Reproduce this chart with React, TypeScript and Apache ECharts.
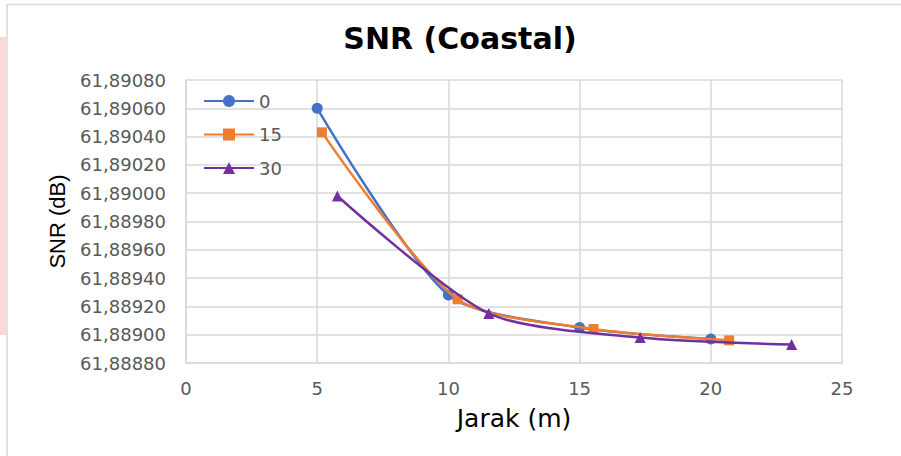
import React, { useEffect, useRef } from "react";
import * as echarts from "echarts";

const titleText = "SNR (Coastal)";
const xAxisTitle = "Jarak (m)";
const yAxisTitle = "SNR (dB)";
const seriesNames = ["0", "15", "30"];

const distance0 = [5, 10, 15, 20];
const snr0 = [61.8906, 61.88928, 61.88905, 61.88897];
const distance15 = [5.18, 10.35, 15.53, 20.7];
const snr15 = [61.89043, 61.88925, 61.88904, 61.88896];
const distance30 = [5.77, 11.54, 17.31, 23.08];
const snr30 = [61.88998, 61.88915, 61.88898, 61.88893];

const colors = ["#4472C4", "#ED7D31", "#7030A0"];
const symbols = ["circle", "rect", "triangle"];
const symbolSizes = [11, 10, 11];

const xMin = 0;
const xMax = 25;
const xStep = 5;
const yMin = 61.8888;
const yMax = 61.8908;
const yStep = 0.0002;

function zip(xs: number[], ys: number[]) {
  return xs.map((x, i) => [x, ys[i]]);
}

export default function App() {
  const ref = useRef<HTMLDivElement>(null);
  useEffect(() => {
    if (!ref.current) return;
    const chart = echarts.init(ref.current, undefined, { renderer: "svg" });
    const labelFont = "DejaVu Sans";
    const datasets = [
      zip(distance0, snr0),
      zip(distance15, snr15),
      zip(distance30, snr30),
    ];
    chart.setOption({
      animation: false,
      backgroundColor: "#ffffff",
      graphic: [
        {
          type: "rect",
          shape: { x: 0, y: 37, width: 6, height: 298 },
          style: { fill: "#fdd8da" },
          silent: true,
        },
        {
          type: "line",
          shape: { x1: 7, y1: 4.5, x2: 901, y2: 4.5 },
          style: { stroke: "#d9d9d9", lineWidth: 1.5 },
          silent: true,
        },
        {
          type: "line",
          shape: { x1: 7, y1: 4, x2: 7, y2: 456 },
          style: { stroke: "#d9d9d9", lineWidth: 1.5 },
          silent: true,
        },
        {
          type: "text",
          x: 460,
          y: 38,
          style: {
            text: titleText,
            fill: "#000000",
            font: "bold 30px 'DejaVu Sans'",
            textAlign: "center",
            textVerticalAlign: "middle",
          },
        },
      ],
      legend: {
        show: true,
        orient: "vertical",
        left: 198,
        top: 87,
        itemWidth: 50,
        itemHeight: 15,
        itemGap: 15.5,
        textStyle: { color: "#595959", fontFamily: labelFont, fontSize: 18 },
        data: seriesNames,
      },
      grid: { left: 186, right: 59, top: 80, bottom: 93 },
      xAxis: {
        type: "value",
        min: xMin,
        max: xMax,
        interval: xStep,
        name: xAxisTitle,
        nameLocation: "middle",
        nameGap: 43,
        nameTextStyle: { color: "#000000", fontFamily: labelFont, fontSize: 25 },
        axisLine: { show: true, lineStyle: { color: "#d9d9d9", width: 1.5 } },
        axisTick: { show: false },
        axisLabel: {
          color: "#595959",
          fontFamily: labelFont,
          fontSize: 18,
          margin: 16,
        },
        splitLine: { show: true, lineStyle: { color: "#d9d9d9", width: 1.5 } },
      },
      yAxis: {
        type: "value",
        min: yMin,
        max: yMax,
        interval: yStep,
        name: yAxisTitle,
        nameLocation: "middle",
        nameRotate: 90,
        nameGap: 118,
        nameTextStyle: { color: "#000000", fontFamily: "Liberation Sans", fontSize: 22 },
        axisLine: { show: true, lineStyle: { color: "#d9d9d9", width: 1.5 } },
        axisTick: { show: false },
        axisLabel: {
          color: "#595959",
          fontFamily: labelFont,
          fontSize: 18,
          margin: 20,
          formatter: (v: number) => v.toFixed(5).replace(".", ","),
        },
        splitLine: { show: true, lineStyle: { color: "#d9d9d9", width: 1.5 } },
      },
      series: datasets.map((d, i) => ({
        name: seriesNames[i],
        type: "line",
        data: d,
        smooth: 0.25,
        symbol: symbols[i],
        symbolSize: symbolSizes[i],
        showAllSymbol: true,
        lineStyle: { color: colors[i], width: 2.5 },
        itemStyle: { color: colors[i], borderWidth: 0 },
        emphasis: { disabled: true },
        z: 3 + i,
      })),
    });
    return () => chart.dispose();
  }, []);
  return (
    <div
      ref={ref}
      style={{ position: "fixed", left: 0, top: 0, width: 901, height: 456 }}
    />
  );
}
